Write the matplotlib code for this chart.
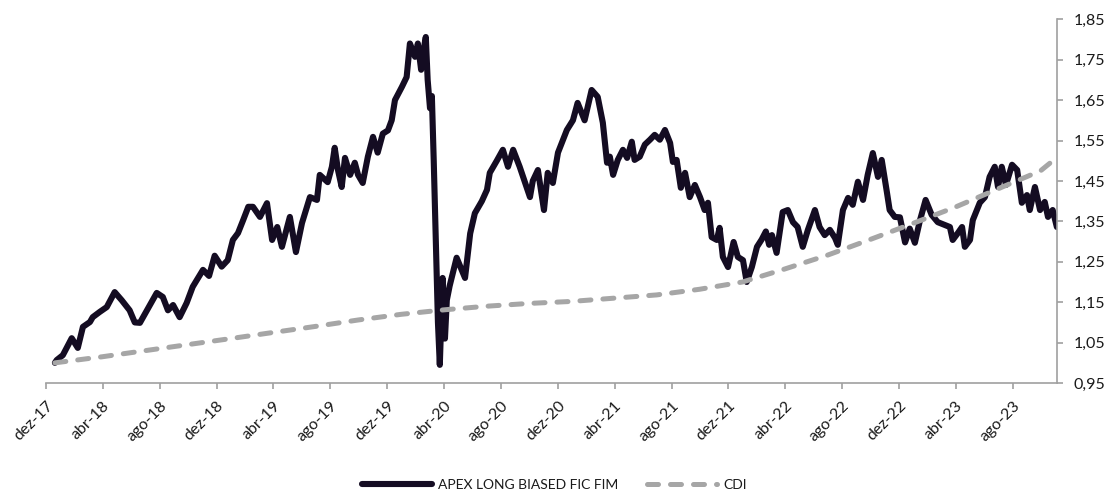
import matplotlib
matplotlib.use("Agg")
import matplotlib.pyplot as plt
import pandas as pd
from matplotlib.ticker import FuncFormatter

plt.rcParams["font.family"] = ["Lato", "DejaVu Sans"]

# APEX LONG BIASED FIC FIM (cota normalizada)
fund_dates = [
    "2017-12-20", "2017-12-24", "2018-01-06", "2018-01-25", "2018-02-07", "2018-02-18",
    "2018-03-05", "2018-03-11", "2018-03-26", "2018-04-10", "2018-04-27", "2018-05-12",
    "2018-05-29", "2018-06-09", "2018-06-20", "2018-07-05", "2018-07-26", "2018-08-08",
    "2018-08-19", "2018-08-30", "2018-09-13", "2018-09-28", "2018-10-11", "2018-11-02",
    "2018-11-15", "2018-11-27", "2018-12-12", "2018-12-25", "2019-01-05", "2019-01-16",
    "2019-01-27", "2019-02-07", "2019-02-17", "2019-03-04", "2019-03-19", "2019-03-30",
    "2019-04-10", "2019-04-20", "2019-05-07", "2019-05-20", "2019-06-02", "2019-06-19",
    "2019-07-04", "2019-07-10", "2019-07-27", "2019-08-05", "2019-08-11", "2019-08-18",
    "2019-08-26", "2019-09-02", "2019-09-13", "2019-09-23", "2019-09-30", "2019-10-10",
    "2019-10-21", "2019-11-01", "2019-11-11", "2019-11-22", "2019-12-03", "2019-12-11",
    "2019-12-18", "2020-01-02", "2020-01-12", "2020-01-19", "2020-01-30", "2020-02-05",
    "2020-02-12", "2020-02-16", "2020-02-22", "2020-02-26", "2020-03-02", "2020-03-06",
    "2020-03-10", "2020-03-14", "2020-03-19", "2020-03-23", "2020-03-29", "2020-04-03",
    "2020-04-07", "2020-04-13", "2020-04-28", "2020-05-16", "2020-05-27", "2020-06-06",
    "2020-06-21", "2020-07-02", "2020-07-08", "2020-07-23", "2020-08-05", "2020-08-16",
    "2020-08-27", "2020-09-10", "2020-10-02", "2020-10-08", "2020-10-19", "2020-11-01",
    "2020-11-09", "2020-11-20", "2020-12-01", "2020-12-20", "2021-01-02", "2021-01-12",
    "2021-01-27", "2021-02-11", "2021-02-24", "2021-03-07", "2021-03-16", "2021-03-22",
    "2021-03-29", "2021-04-08", "2021-04-19", "2021-04-28", "2021-05-08", "2021-05-14",
    "2021-05-25", "2021-06-05", "2021-06-16", "2021-06-26", "2021-07-07", "2021-07-18",
    "2021-07-29", "2021-08-04", "2021-08-12", "2021-08-21", "2021-08-30", "2021-09-09",
    "2021-09-20", "2021-10-01", "2021-10-11", "2021-10-18", "2021-10-26", "2021-11-06",
    "2021-11-12", "2021-11-19", "2021-11-30", "2021-12-12", "2021-12-21", "2022-01-01",
    "2022-01-09", "2022-01-20", "2022-01-31", "2022-02-10", "2022-02-19", "2022-02-26",
    "2022-03-04", "2022-03-14", "2022-03-27", "2022-04-07", "2022-04-18", "2022-04-28",
    "2022-05-09", "2022-05-20", "2022-06-04", "2022-06-14", "2022-06-25", "2022-07-06",
    "2022-07-17", "2022-07-23", "2022-08-03", "2022-08-14", "2022-08-24", "2022-09-04",
    "2022-09-15", "2022-09-25", "2022-10-06", "2022-10-17", "2022-10-25", "2022-11-05",
    "2022-11-11", "2022-11-22", "2022-12-03", "2022-12-14", "2022-12-24", "2023-01-04",
    "2023-01-15", "2023-01-27", "2023-02-09", "2023-02-22", "2023-03-09", "2023-03-20",
    "2023-03-26", "2023-04-06", "2023-04-15", "2023-04-21", "2023-05-02", "2023-05-08",
    "2023-05-23", "2023-06-03", "2023-06-13", "2023-06-24", "2023-07-01", "2023-07-09",
    "2023-07-18", "2023-07-31", "2023-08-11", "2023-08-21", "2023-09-01", "2023-09-07",
    "2023-09-18", "2023-09-29", "2023-10-09", "2023-10-16", "2023-10-26", "2023-11-04",
]
fund_values = [
    1.000, 1.007, 1.019, 1.061, 1.037, 1.089,
    1.101, 1.113, 1.126, 1.138, 1.175, 1.155,
    1.130, 1.100, 1.099, 1.130, 1.173, 1.163,
    1.130, 1.143, 1.113, 1.148, 1.188, 1.230,
    1.215, 1.265, 1.238, 1.254, 1.304, 1.321,
    1.353, 1.386, 1.386, 1.361, 1.395, 1.304,
    1.336, 1.287, 1.361, 1.274, 1.346, 1.410,
    1.403, 1.465, 1.447, 1.485, 1.532, 1.477,
    1.435, 1.507, 1.465, 1.495, 1.465, 1.445,
    1.510, 1.559, 1.520, 1.567, 1.575, 1.600,
    1.650, 1.683, 1.707, 1.790, 1.757, 1.790,
    1.725, 1.765, 1.806, 1.700, 1.630, 1.660,
    1.500, 1.320, 1.100, 0.995, 1.210, 1.060,
    1.155, 1.190, 1.260, 1.210, 1.320, 1.370,
    1.400, 1.428, 1.470, 1.500, 1.527, 1.485,
    1.527, 1.485, 1.410, 1.450, 1.477, 1.378,
    1.470, 1.445, 1.520, 1.576, 1.600, 1.643,
    1.600, 1.675, 1.658, 1.594, 1.495, 1.510,
    1.465, 1.502, 1.527, 1.507, 1.547, 1.502,
    1.510, 1.540, 1.552, 1.564, 1.552, 1.576,
    1.544, 1.497, 1.502, 1.433, 1.470, 1.410,
    1.440, 1.410, 1.378, 1.396, 1.311, 1.304,
    1.334, 1.262, 1.237, 1.299, 1.262, 1.254,
    1.200, 1.237, 1.287, 1.305, 1.325, 1.292,
    1.316, 1.272, 1.373, 1.378, 1.348, 1.336,
    1.287, 1.329, 1.378, 1.336, 1.316, 1.329,
    1.309, 1.292, 1.378, 1.408, 1.391, 1.448,
    1.403, 1.465, 1.519, 1.460, 1.502, 1.423,
    1.378, 1.361, 1.360, 1.298, 1.332, 1.297,
    1.353, 1.403, 1.366, 1.348, 1.341, 1.336,
    1.304, 1.321, 1.336, 1.287, 1.304, 1.353,
    1.396, 1.410, 1.460, 1.485, 1.435, 1.485,
    1.440, 1.490, 1.477, 1.396, 1.415, 1.378,
    1.435, 1.378, 1.398, 1.361, 1.378, 1.336,
]

# CDI acumulado
cdi_dates = [
    "2017-12-20", "2018-03-31", "2018-06-30", "2018-09-30", "2018-12-31",
    "2019-03-31", "2019-06-30", "2019-09-30", "2019-12-31", "2020-03-31",
    "2020-06-30", "2020-09-30", "2020-12-31", "2021-03-31", "2021-06-30",
    "2021-09-30", "2021-12-31", "2022-03-31", "2022-06-30", "2022-09-30",
    "2022-12-31", "2023-03-31", "2023-06-30", "2023-09-30", "2023-11-04",
]
cdi_values = [
    1.000, 1.015, 1.030, 1.045, 1.060,
    1.075, 1.090, 1.106, 1.120, 1.131,
    1.140, 1.147, 1.152, 1.160, 1.168,
    1.182, 1.200, 1.232, 1.266, 1.305,
    1.345, 1.385, 1.430, 1.475, 1.508,
]

tick_dates = [
    "2017-12-01", "2018-04-01", "2018-08-01", "2018-12-01", "2019-04-01", "2019-08-01",
    "2019-12-01", "2020-04-01", "2020-08-01", "2020-12-01", "2021-04-01", "2021-08-01",
    "2021-12-01", "2022-04-01", "2022-08-01", "2022-12-01", "2023-04-01", "2023-08-01",
]
tick_labels = [
    "dez-17", "abr-18", "ago-18", "dez-18", "abr-19", "ago-19",
    "dez-19", "abr-20", "ago-20", "dez-20", "abr-21", "ago-21",
    "dez-21", "abr-22", "ago-22", "dez-22", "abr-23", "ago-23",
]
y_ticks = [0.95, 1.05, 1.15, 1.25, 1.35, 1.45, 1.55, 1.65, 1.75, 1.85]

fund_color = "#140C22"
cdi_color = "#A6A6A6"
axis_color = "#A0A0A0"
text_color = "#1A1A1A"

fig = plt.figure(figsize=(11.09, 4.93), dpi=100)
ax = fig.add_axes([0.0415, 0.223, 0.9115, 0.738])

ax.plot(pd.to_datetime(fund_dates), fund_values, color=fund_color, lw=4.4,
        solid_joinstyle="round", solid_capstyle="round",
        label="APEX LONG BIASED FIC FIM", zorder=2)
cdi_line, = ax.plot(pd.to_datetime(cdi_dates), cdi_values, color=cdi_color, lw=3.6,
                    dash_capstyle="round", label="CDI", zorder=3)
cdi_line.set_dashes([2.2, 2.4])

ax.set_xlim(pd.Timestamp("2017-12-01"), pd.Timestamp("2023-11-04"))
ax.set_ylim(0.95, 1.85)

ax.set_xticks(pd.to_datetime(tick_dates))
ax.set_xticklabels(tick_labels, rotation=45, ha="right", va="top",
                   rotation_mode="anchor", fontsize=11.5, color=text_color)
ax.yaxis.tick_right()
ax.set_yticks(y_ticks)
ax.yaxis.set_major_formatter(FuncFormatter(lambda v, p: f"{v:.2f}".replace(".", ",")))
for lab in ax.get_yticklabels():
    lab.set_fontsize(11.5)
    lab.set_color(text_color)

for s in ["left", "top"]:
    ax.spines[s].set_visible(False)
for s in ["right", "bottom"]:
    ax.spines[s].set_color(axis_color)
    ax.spines[s].set_linewidth(1.2)
ax.tick_params(axis="both", which="major", length=4, width=1.2, color=axis_color)
ax.tick_params(axis="x", pad=7)
ax.tick_params(axis="y", pad=8)

fig.legend(loc="lower center", bbox_to_anchor=(0.5, -0.022), ncol=2, frameon=False,
           fontsize=10, handlelength=5.0, handletextpad=0.45, columnspacing=2.1,
           labelcolor=text_color)

fig.savefig("out.png", dpi=100)
